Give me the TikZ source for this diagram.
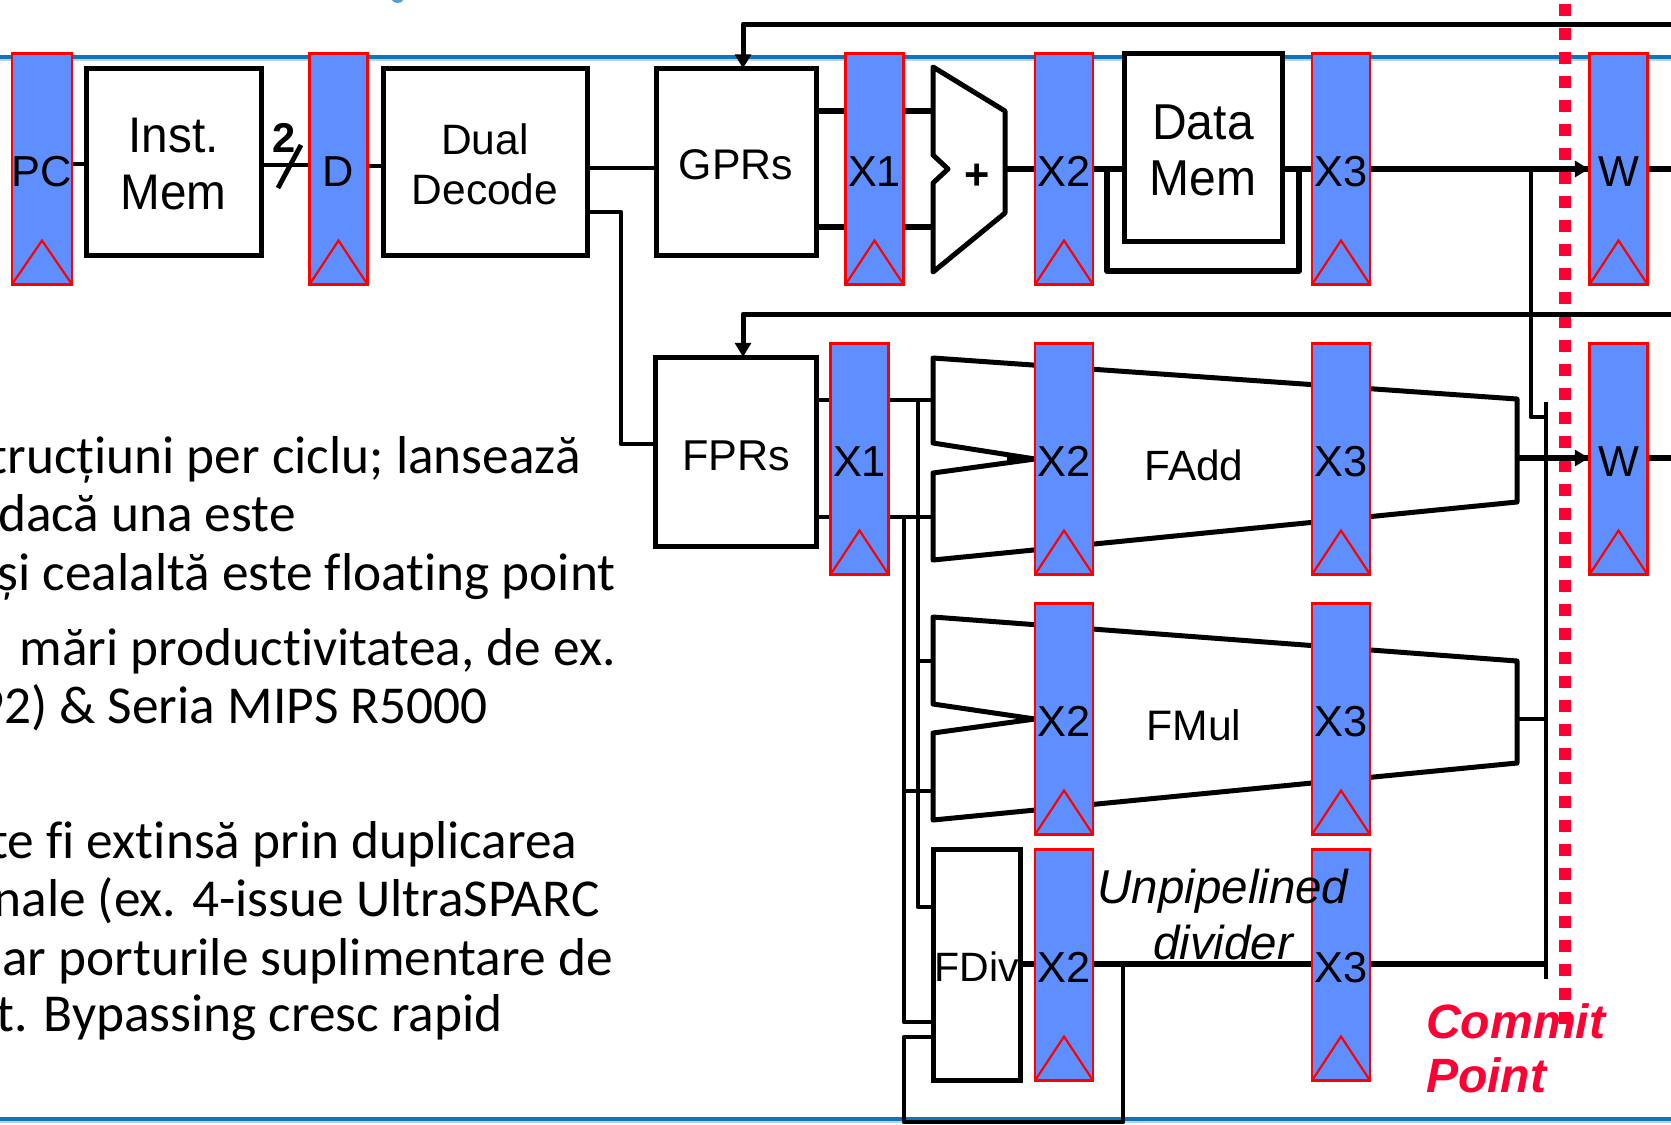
\documentclass[tikz,border=0pt]{standalone}
\usepackage{fontspec}
\setmainfont{Liberation Sans}
\newfontfamily\bodyfont[Ligatures=NoCommon]{Carlito}
\usetikzlibrary{arrows.meta,calc}
\definecolor{regblue}{HTML}{5F8FFF}
\definecolor{regred}{HTML}{FF0000}
\definecolor{commitred}{HTML}{FF0033}
\definecolor{rule}{HTML}{0F74BC}
\definecolor{ruleshade}{HTML}{BBD3E8}
\newcommand{\fs}[2]{\fontsize{#1}{#2}\selectfont}
\newcommand{\lbl}[3][1.4pt]{\raisebox{-#1}[\height][\depth]{\scalebox{1}[#2]{#3}}}
\newcommand{\twolines}[2]{\begin{tabular}{@{}c@{}}#1\\#2\end{tabular}}
\newcommand{\reg}[4]{%
  \node[regbox] (#1) at (#2,#3) {\lbl{1}{#4}};
  \draw[regline] (#1.south west) -- ($(#1.south)+(0,-44)$) -- (#1.south east);
}
\tikzset{
  regbox/.style={draw=regred,fill=regblue,line width=1.3pt,minimum width=58*0.6pt,minimum height=231*0.6pt,inner sep=0pt,outer sep=0pt,font=\fs{26}{30}},
  regline/.style={draw=regred,line width=1.3pt,line join=miter},
  bx/.style 2 args={draw=black,fill=white,line width=3pt,minimum width=#1*0.6pt,minimum height=#2*0.6pt,inner sep=0pt,outer sep=0pt,align=center},
  wire/.style={draw=black,line width=2.9pt,line join=round},
  hwire/.style={draw=black,line width=3.1pt,line join=round},
  shapeline/.style={draw=black,fill=white,line width=3pt,line join=round},
  arrowwire/.style={draw=black,line width=3pt,line join=round,-{Triangle[width=9.5pt,length=8.5pt]}},
  bodytext/.style={anchor=base east,inner sep=0pt,font=\bodyfont\fs{32}{38}},
  plain/.style={inner sep=0pt,outer sep=0pt,align=center},
  dashline/.style={draw=commitred,line width=7.2pt,dash pattern=on 7.2pt off 7.2pt},
}
\begin{document}
\begin{tikzpicture}[x=0.6pt,y=-0.6pt]
\useasboundingbox (0,0) rectangle (1671,1124);
\fill[white] (0,0) rectangle (1671,1124);
% slide rules
\coordinate (L) at (0,0);
\coordinate (R) at (1671,0);
\draw[ruleshade,line width=1.5pt] (L|-0,60) -- (R|-0,60);
\draw[rule,line width=2pt] (L|-0,57) -- (R|-0,57);
\draw[ruleshade,line width=1.5pt] (L|-0,1122) -- (R|-0,1122);
\draw[rule,line width=2pt] (L|-0,1119) -- (R|-0,1119);
\fill[rule!70!white] (392,0) arc[start angle=180,end angle=360,x radius=5.5,y radius=-3] -- cycle;
% commit line
\draw[dashline] (1565,4) -- (1565,1024);
% body text
\begin{scope}
\clip (0,0) rectangle (1671,1124);
\node[bodytext] (t1) at (581,473) {trucțiuni per ciclu; lansează};
\node[bodytext] (t2) at (296,531) {dacă una este};
\node[bodytext] (t3) at (616,590) {și cealaltă este floating point};
\node[bodytext] (t4) at (616,665) {mări productivitatea, de ex.};
\node[bodytext] (t5) at (488,723) {92) \& Seria MIPS R5000};
\node[bodytext] (t6) at (578,858) {te fi extinsă prin duplicarea};
\node[bodytext] (t7) at (600,916) {nale (ex. 4-issue UltraSPARC};
\node[bodytext] (t8) at (613,975) {ar porturile suplimentare de};
\node[bodytext] (t9) at (503,1031) {t. Bypassing cresc rapid};
\end{scope}
% boxes
\node[bx={175}{187},font=\fs{28.6}{32.6}] (inst) at (173.5,162) {\lbl[4.6pt]{1.05}{\twolines{Inst.}{Mem}}};
\node[bx={204}{187},font=\fs{25.5}{30}] (dual) at (485,162) {\lbl[4.3pt]{1}{\twolines{Dual}{Decode}}};
\node[bx={160}{187},font=\fs{25.7}{30}] (gprs) at (736,162) {\lbl[1.9pt]{1}{GPRs}};
\node[bx={161}{189},font=\fs{25.9}{30}] (fprs) at (736,451.5) {\lbl[2.4pt]{1}{FPRs}};
\node[bx={158}{188},font=\fs{28.8}{32}] (dmem) at (1203,147.5) {\lbl[5pt]{1.05}{\twolines{Data}{Mem}}};
\node[bx={87}{231}] (fdiv) at (977,965) {};
% shape anchors
\coordinate (addL) at (933,169);
\coordinate (addR) at (1005,169);
\coordinate (faL) at (933,458);
\coordinate (faR) at (1517,458);
\coordinate (fmL) at (933,719);
\coordinate (fmR) at (1517,719);
\coordinate (busA) at (918,400);
\coordinate (busB) at (904,517);
\coordinate (loopA) at (1107,169);
\coordinate (loopB) at (1299,169);
\coordinate (wbA) at (1531,169);
\coordinate (wbB) at (1546,417);
\coordinate (drop) at (621,212);
\coordinate (fbA) at (743,24);
\coordinate (fbB) at (743,314);
\coordinate (divTap) at (1123,964);
% wires (behind registers)
\draw[wire] (inst.west|-0,164) -- (71,164);
\draw[wire] (inst.east|-0,165) -- (309,165);
\draw[wire] (369,166) -- (dual.west|-0,166);
\draw[wire] (dual.east|-0,168) -- (gprs.west|-0,168);
\draw[wire] (dual.east|-0,212) -- (drop) -- (drop|-0,444) -- (fprs.west|-0,444);
\draw[hwire] (gprs.east|-0,111) -- (addL|-0,111);
\draw[hwire] (gprs.east|-0,227) -- (addL|-0,227);
\draw[hwire] (addR) -- (dmem.west|-addR);
\draw[hwire] (dmem.east|-addR) -- (R|-addR);
\draw[hwire] (loopA) -- (loopA|-0,271) -- (loopB|-0,271) -- (loopB);
\draw[arrowwire] (R|-fbA) -- (fbA) -- (fbA|-gprs.north);
\draw[arrowwire] (R|-fbB) -- (fbB) -- (fbB|-fprs.north);
\draw[wire] (fprs.east|-0,400) -- (faL|-0,400);
\draw[wire] (fprs.east|-0,517) -- (faL|-0,517);
\draw[wire] (busA) -- (busA|-0,907) -- (fdiv.west|-0,907);
\draw[wire] (busB) -- (busB|-0,1022) -- (fdiv.west|-0,1022);
\draw[wire] (busA|-0,661) -- (fmL|-0,661);
\draw[wire] (busB|-0,791) -- (fmL|-0,791);
\draw[hwire] (fdiv.east|-0,964) -- (wbB|-0,964);
\draw[wire] (divTap) -- (divTap|-0,1122) -- (busB|-0,1122) -- (busB|-0,1037) -- (fdiv.west|-0,1037);
\draw[wire] (wbA) -- (wbA|-wbB) -- (wbB);
\draw[wire] (wbB|-0,402) -- (wbB|-0,979);
\draw[hwire] (faR) -- (R|-faR);
\draw[wire] (fmR) -- (wbB|-fmR);
\draw[arrowwire] (1400,169) -- (1589,169);
\draw[arrowwire] (faR) -- (1589,458);
% function units
\draw[shapeline] (933,67) -- (1005,111) -- (1005,213) -- (933,272) -- (933,183) -- (948,169) -- (933,155) -- cycle;
\node[plain,font=\bfseries\fs{26}{28}] (plus) at (977,177) {+};
\draw[shapeline] (933,358) -- (1517,399) -- (1517,502) -- (933,560) -- (933,473) -- (1035,459) -- (933,443) -- cycle;
\fill[black] (1007,453) -- (1035,458) -- (1035,460) -- (1007,465) -- cycle;
\draw[shapeline] (933,617) -- (1517,661) -- (1517,763) -- (933,820) -- (933,733) -- (1035,719) -- (933,704) -- cycle;
% registers
\reg{pc}{42}{169}{PC}
\reg{d}{338.5}{169}{D}
\reg{xa}{874.5}{169}{X1}
\reg{xb}{1064}{169}{X2}
\reg{xc}{1341}{169}{X3}
\reg{w}{1618.5}{169}{W}
\reg{fxa}{859.5}{459}{X1}
\reg{fxb}{1064}{459}{X2}
\reg{fxc}{1341}{459}{X3}
\reg{fw}{1618.5}{459}{W}
\reg{mxb}{1064}{719}{X2}
\reg{mxc}{1341}{719}{X3}
\reg{dxb}{1064}{965}{X2}
\reg{dxc}{1341}{965}{X3}
% labels
\node[plain,font=\fs{25.4}{28}] (faddl) at (1194,465) {FAdd};
\node[plain,font=\fs{25.6}{28}] (fmull) at (1194,725) {FMul};
\node[plain,font=\fs{24.6}{28}] (fdivl) at (977,967) {FDiv};
\node[plain,anchor=base,font=\itshape\fs{28.5}{33}] (unp) at (1223,903) {Unpipelined};
\node[plain,anchor=base,font=\itshape\fs{28.5}{33}] (dvd) at (1223,959) {divider};
\node[plain,font=\bfseries\fs{25}{28}] (two) at (284,138) {2};
\draw[wire] (301,145) -- (278,188);
\node[plain,anchor=base west,text=commitred,font=\bfseries\itshape\fs{28.9}{33}] (cm) at (1426,1038) {Commit};
\node[plain,anchor=base west,text=commitred,font=\bfseries\itshape\fs{28.9}{33}] (cp) at (1426,1092) {Point};
\end{tikzpicture}
\end{document}
